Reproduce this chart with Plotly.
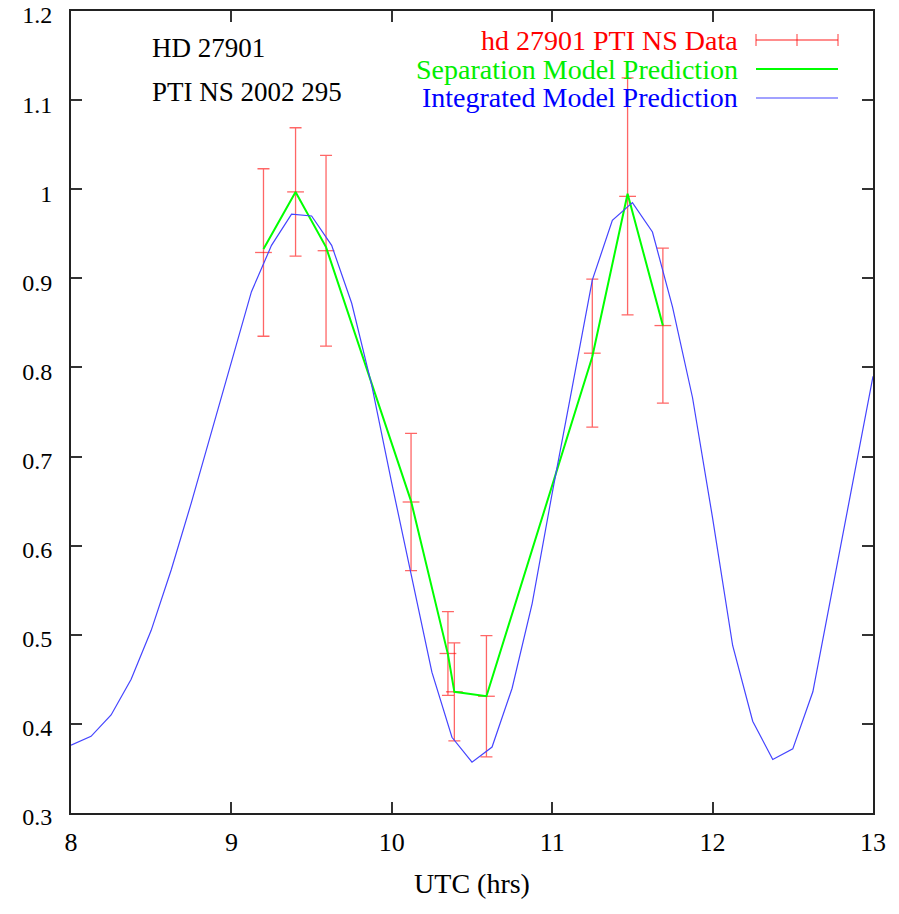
import plotly.graph_objects as go

# Observed data (PTI NS)
data_t = [9.20, 9.40, 9.59, 10.12, 10.35, 10.39, 10.59, 11.25, 11.47, 11.69]
data_v = [0.929, 0.997, 0.931, 0.649, 0.479, 0.436, 0.431, 0.816, 0.992, 0.847]
data_err = [0.094, 0.072, 0.107, 0.077, 0.047, 0.055, 0.068, 0.083, 0.133, 0.087]

# Separation model prediction at data times
sep_v = [0.933, 0.997, 0.935, 0.650, 0.478, 0.436, 0.431, 0.812, 0.995, 0.847]

# Integrated model prediction
int_t = [8.000, 8.125, 8.250, 8.375, 8.500, 8.625, 8.750, 8.875, 9.000, 9.125,
         9.250, 9.375, 9.500, 9.625, 9.750, 9.875, 10.000, 10.125, 10.250, 10.375,
         10.500, 10.625, 10.750, 10.875, 11.000, 11.125, 11.250, 11.375, 11.500, 11.625,
         11.750, 11.875, 12.000, 12.125, 12.250, 12.375, 12.500, 12.625, 12.750, 12.875,
         13.000]
int_v = [0.376, 0.386, 0.410, 0.450, 0.505, 0.573, 0.648, 0.727, 0.806, 0.885,
         0.937, 0.972, 0.970, 0.937, 0.872, 0.780, 0.670, 0.565, 0.458, 0.385,
         0.357, 0.374, 0.440, 0.535, 0.659, 0.778, 0.898, 0.965, 0.985, 0.952,
         0.868, 0.766, 0.631, 0.488, 0.403, 0.360, 0.372, 0.436, 0.553, 0.672,
         0.790]

legend_labels = ["hd 27901 PTI NS Data", "Separation Model Prediction", "Integrated Model Prediction"]
legend_colors = ["#ff0000", "#00ee00", "#0000ff"]
info_lines = ["HD 27901", "PTI NS 2002 295"]

FONT = "Liberation Serif, Times New Roman, serif"
RED = "rgba(255,0,0,0.6)"
GREEN = "#00ff00"
BLUE = "#4444ff"

W, H = 899, 914
ML, MR, MT, MB = 71, 899 - 873, 11, 914 - 813
PW, PH = 873 - 71, 813 - 11

fig = go.Figure()
fig.add_trace(go.Scatter(
    x=data_t, y=data_v, mode="markers", name=legend_labels[0],
    marker=dict(symbol="line-ew-open", size=12, color=RED, line=dict(color=RED, width=1.3)),
    error_y=dict(type="data", array=data_err, visible=True, color=RED, thickness=1.3, width=6),
))
fig.add_trace(go.Scatter(x=data_t, y=sep_v, mode="lines", name=legend_labels[1],
                         line=dict(color=GREEN, width=2)))
fig.add_trace(go.Scatter(x=int_t, y=int_v, mode="lines", name=legend_labels[2],
                         line=dict(color=BLUE, width=1.2)))

axis_common = dict(showline=True, linecolor="#222222", linewidth=2, mirror="ticks",
                   ticks="inside", ticklen=11, tickwidth=1.5, tickcolor="#333333",
                   showgrid=False, zeroline=False, automargin=False,
                   ticklabeloverflow="allow")

fig.update_xaxes(range=[8, 13], dtick=1, tick0=8, ticklabelstandoff=5,
                 tickfont=dict(family=FONT, size=26, color="black"),
                 title=dict(text="UTC (hrs)", font=dict(family=FONT, size=28, color="black"), standoff=17),
                 **axis_common)
fig.update_yaxes(range=[0.3, 1.2], dtick=0.1, tick0=0.3, ticklabelstandoff=12, ticklabelshift=4,
                 tickfont=dict(family=FONT, size=24, color="black"), **axis_common)

annotations = []
for i, txt in enumerate(info_lines):
    annotations.append(dict(xref="paper", yref="paper", x=(150 - 71) / PW, y=(813 - (48 + 44 * i)) / PH,
                            xanchor="left", yanchor="middle", text=txt, showarrow=False,
                            font=dict(family=FONT, size=27, color="black")))
shapes = []
row_y = [40, 69, 98]
for i, (lab, col) in enumerate(zip(legend_labels, legend_colors)):
    yp = (813 - row_y[i]) / PH
    annotations.append(dict(xref="paper", yref="paper", x=(740 - 71) / PW, y=yp,
                            xanchor="right", yanchor="middle", text=lab, showarrow=False,
                            font=dict(family=FONT, size=28, color=col)))
    lc = [RED, GREEN, BLUE][i]
    lw = [1.3, 2, 1.2][i]
    x0 = (756 - 71) / PW
    x1 = (838 - 71) / PW
    shapes.append(dict(type="line", xref="paper", yref="paper", x0=x0, x1=x1, y0=yp, y1=yp,
                       line=dict(color=lc, width=lw)))
    if i == 0:
        for xx in (756, 797, 838):
            xpp = (xx - 71) / PW
            shapes.append(dict(type="line", xref="paper", yref="paper", x0=xpp, x1=xpp,
                               y0=yp - 6 / PH, y1=yp + 6 / PH, line=dict(color=lc, width=lw)))

fig.update_layout(width=W, height=H, margin=dict(l=ML, r=MR, t=MT, b=MB, autoexpand=False),
                  plot_bgcolor="white", paper_bgcolor="white", showlegend=False,
                  annotations=annotations, shapes=shapes,
                  font=dict(family=FONT, size=26, color="black"))

fig.write_html("out.html", config={"displayModeBar": False},
               post_script="document.body.style.margin='0';document.body.style.overflow='hidden';")
